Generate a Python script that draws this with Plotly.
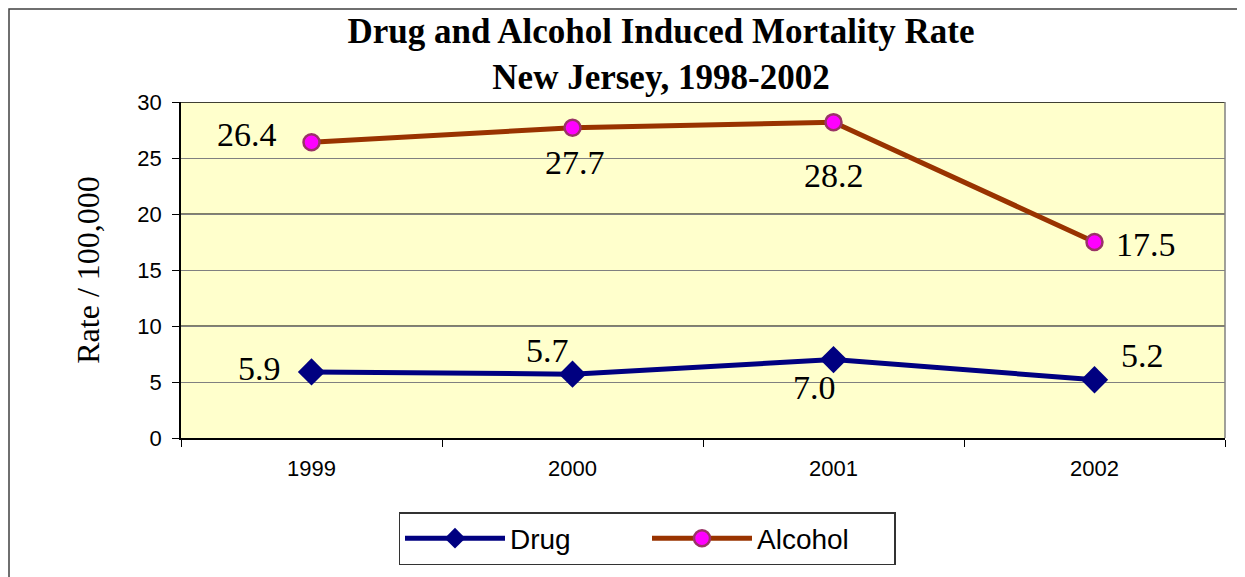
import plotly.graph_objects as go

years = ["1999", "2000", "2001", "2002"]
drug = [5.9, 5.7, 7.0, 5.2]
alcohol = [26.4, 27.7, 28.2, 17.5]
drug_labels = ["5.9", "5.7", "7.0", "5.2"]
alcohol_labels = ["26.4", "27.7", "28.2", "17.5"]
y_ticks = [0, 5, 10, 15, 20, 25, 30]

# page is offset by 8px body margin
W, H = 1237, 569
ml, mr, mt, mb = 173, 20, 94, 139
pw, ph = W - ml - mr, H - mt - mb

fig = go.Figure()
fig.add_trace(go.Scatter(
    x=years, y=drug, name="Drug", mode="lines+markers",
    line=dict(color="#000080", width=5),
    marker=dict(symbol="diamond", size=21, color="#000080", line=dict(width=0)),
))
fig.add_trace(go.Scatter(
    x=years, y=alcohol, name="Alcohol", mode="lines+markers",
    line=dict(color="#993300", width=5),
    marker=dict(symbol="circle", size=16, color="#FF00FF", line=dict(width=2.5, color="#993366")),
))

serif = "Liberation Serif, Times New Roman, serif"
sans = "Liberation Sans, Arial, sans-serif"
# label offsets (pixels) relative to each point
drug_off = [(-52, 3), (-25, 24), (-19, -28), (48, 24)]
alc_off = [(-65, 8), (2, -35), (0, -53), (51, -2)]
annots = []
for i, (y, t, (dx, dy)) in enumerate(zip(drug, drug_labels, drug_off)):
    annots.append(dict(x=i, y=y, text=t, showarrow=False, xshift=dx, yshift=dy,
                       font=dict(family=serif, size=34, color="black")))
for i, (y, t, (dx, dy)) in enumerate(zip(alcohol, alcohol_labels, alc_off)):
    annots.append(dict(x=i, y=y, text=t, showarrow=False, xshift=dx, yshift=dy,
                       font=dict(family=serif, size=34, color="black")))

shapes = [
    # outer chart border
    dict(type="rect", xref="paper", yref="paper",
         x0=-(ml - 1) / pw, x1=(1235 - ml) / pw, y0=-0.6, y1=(H - mb - 1) / ph,
         line=dict(color="#404040", width=1.5), fillcolor="rgba(0,0,0,0)", layer="below"),
    # right plot edge
    dict(type="line", xref="paper", yref="paper", x0=1, x1=1, y0=0, y1=1,
         line=dict(color="#808080", width=1.5)),
    # darker gridlines
    dict(type="line", xref="paper", yref="y", x0=0, x1=1, y0=10, y1=10,
         line=dict(color="black", width=1), layer="below"),
    dict(type="line", xref="paper", yref="y", x0=0, x1=1, y0=20, y1=20,
         line=dict(color="black", width=1), layer="below"),
    dict(type="line", xref="paper", yref="y", x0=0, x1=1, y0=30, y1=30,
         line=dict(color="black", width=1.5), layer="below"),
]

fig.update_layout(
    width=W, height=H,
    margin=dict(l=ml, r=mr, t=mt, b=mb),
    paper_bgcolor="white", plot_bgcolor="#FFFFCC",
    title=dict(text="Drug and Alcohol Induced Mortality Rate<br>New Jersey, 1998-2002",
               x=653 / W, xanchor="center", xref="container",
               y=1 - 35 / H, yanchor="middle", yref="container",
               font=dict(family=serif, size=35, color="black", weight="bold")),
    xaxis=dict(type="category", showline=True, linecolor="black", linewidth=1.5,
               ticks="outside", tickson="boundaries", ticklen=7, tickcolor="black",
               tickfont=dict(family=sans, size=22, color="black"),
               showgrid=False, range=[-0.5, 3.5], ticklabelstandoff=10),
    yaxis=dict(range=[0, 30], tickvals=y_ticks, showline=True, linecolor="black", linewidth=1.5,
               ticks="outside", ticklen=7, tickcolor="black", ticklabelstandoff=6,
               tickfont=dict(family=sans, size=22, color="black"),
               showgrid=True, gridcolor="#808080", gridwidth=1, zeroline=False,
               title=dict(text="Rate / 100,000", font=dict(family=serif, size=32, color="black"),
                          standoff=28)),
    legend=dict(orientation="h", x=(647 - 181) / pw, xanchor="center",
                y=-(512 - 438) / ph, yanchor="top",
                bordercolor="#333333", borderwidth=1.5, bgcolor="white",
                font=dict(family=sans, size=28, color="black"),
                entrywidth=132, itemwidth=100),
    annotations=annots,
    shapes=shapes,
    showlegend=True,
)

fig.write_html("out.html")
